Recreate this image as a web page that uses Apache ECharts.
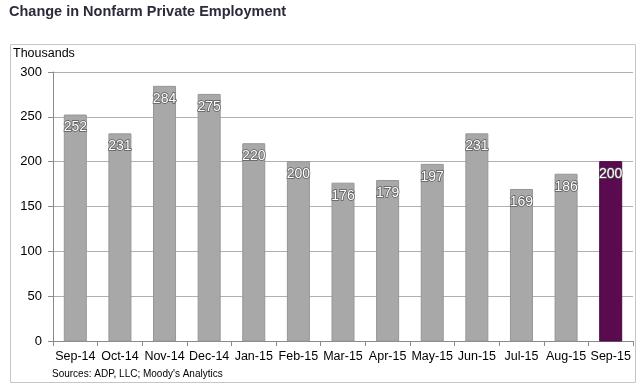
<!DOCTYPE html>
<html><head><meta charset="utf-8">
<script src="https://cdn.jsdelivr.net/npm/echarts@6/dist/echarts.min.js"></script>
<style>html,body{margin:0;padding:0;background:#fff}#c{width:640px;height:388px}</style>
</head><body><div id="c"></div>
<script>
var categories = ['Sep-14','Oct-14','Nov-14','Dec-14','Jan-15','Feb-15','Mar-15','Apr-15','May-15','Jun-15','Jul-15','Aug-15','Sep-15'];
var values = [252,231,284,275,220,200,176,179,197,231,169,186,200];
var yTicks = [0,50,100,150,200,250,300];
var titleText = 'Change in Nonfarm Private Employment';
var unitText = 'Thousands';
var sourceText = "Sources: ADP, LLC; Moody's Analytics";

var chart = echarts.init(document.getElementById('c'), null, {renderer:'canvas'});
var data = values.map(function(v,i){
  return {value:v, itemStyle: i===values.length-1 ? {color:'#5a0a4f', borderColor:'#4a0840'} : {color:'#a8a8a8', borderColor:'#969696'}};
});
chart.setOption({
  animation:false,
  title:{text:titleText,left:9,top:4,padding:0,textStyle:{fontFamily:'Arial, Liberation Sans',fontSize:14.5,fontWeight:'bold',color:'#2a2a3a'}},
  graphic:[
    {type:'rect',shape:{x:10.5,y:44.5,width:625,height:338},style:{fill:'none',stroke:'#c6c6c6',lineWidth:1},z:-1},
    {type:'text',left:13,top:47,style:{text:unitText,font:'12.5px Arial, Liberation Sans',fill:'#000'}},
    {type:'text',left:52,top:369,style:{text:sourceText,font:'10px Arial, Liberation Sans',fill:'#000'}}
  ],
  grid:{left:53,right:7,top:72,bottom:47},
  xAxis:{type:'category',data:categories,
    axisLine:{lineStyle:{color:'#8a8a8a'}},
    axisTick:{show:true,length:5,lineStyle:{color:'#8a8a8a'}},
    axisLabel:{margin:9,fontFamily:'Arial, Liberation Sans',fontSize:12.5,color:'#000',interval:0}},
  yAxis:{type:'value',min:0,max:300,interval:50,
    axisLine:{show:true,lineStyle:{color:'#8a8a8a'}},
    axisTick:{show:true,length:5,lineStyle:{color:'#8a8a8a'}},
    axisLabel:{margin:11,fontFamily:'Arial, Liberation Sans',fontSize:13,color:'#000',
      formatter:function(v){return yTicks.indexOf(v)>=0?String(v):'';}},
    splitLine:{lineStyle:{color:'#b0b0b0'}}},
  series:[{type:'bar',data:data,barWidth:22,
    label:{show:true,position:'insideTop',distance:6,fontFamily:'Arial, Liberation Sans',fontSize:14,color:'#fff',
      textBorderColor:'#5a5a5a',textBorderWidth:1.5}}]
});
</script></body></html>
